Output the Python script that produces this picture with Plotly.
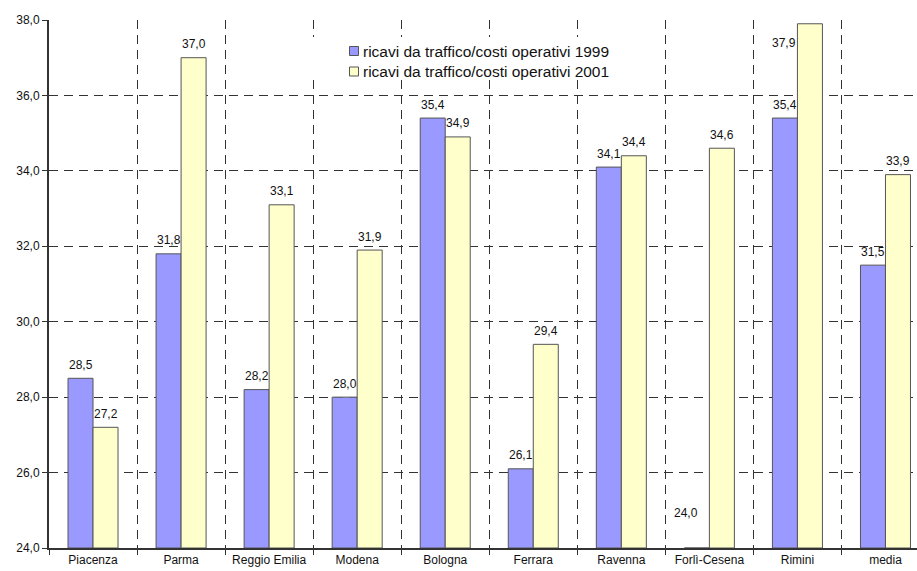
import plotly.graph_objects as go

# Data
categories = ["Piacenza", "Parma", "Reggio Emilia", "Modena", "Bologna",
              "Ferrara", "Ravenna", "Forlì-Cesena", "Rimini", "media"]
ratio_1999 = [28.5, 31.8, 28.2, 28.0, 35.4, 26.1, 34.1, 24.0, 35.4, 31.5]
ratio_2001 = [27.2, 37.0, 33.1, 31.9, 34.9, 29.4, 34.4, 34.6, 37.9, 33.9]
series_names = ["ricavi da traffico/costi operativi 1999",
                "ricavi da traffico/costi operativi 2001"]
y_ticks = [24, 26, 28, 30, 32, 34, 36, 38]

BLUE = "#9999FF"
YELLOW = "#FFFFCC"
OUTLINE = "#555555"
AXIS = "#333333"
FONT = "Liberation Sans, Arial, sans-serif"
BASE = 24

fig = go.Figure()
colors = [BLUE, YELLOW]
for name, vals, col in zip(series_names, [ratio_1999, ratio_2001], colors):
    fig.add_trace(go.Bar(
        x=categories, y=[v - BASE for v in vals], base=BASE,
        name=name, showlegend=False,
        marker=dict(color=col, line=dict(color=OUTLINE, width=1)),
    ))

# Value labels above the bars (a few nudged where they would collide/clip)
bar_off = 0.142
label_nudge = {(0, 7): (-11, 35), (1, 8): (-26, -19)}
for s, (vals, sign) in enumerate([(ratio_1999, -1), (ratio_2001, 1)]):
    for i, v in enumerate(vals):
        dx, dy = label_nudge.get((s, i), (0, 13.5))
        fig.add_annotation(
            x=i + sign * bar_off, y=v, text=f"{v:.1f}".replace(".", ","),
            showarrow=False, xanchor="center", yanchor="middle",
            xshift=dx, yshift=dy,
            font=dict(family=FONT, size=12, color="#111111"),
        )

# Legend: white box with swatch + text per series, inside the plot area
fig_w, fig_h, m_l, m_r, m_t, m_b = 917, 571, 49, 0, 20, 23
pw, ph = fig_w - m_l - m_r, fig_h - m_t - m_b
def px_x(px):
    return (px - m_l) / pw
def px_y(py):
    return 1 - (py - m_t) / ph
fig.add_shape(type="rect", xref="paper", yref="paper",
              x0=px_x(306), x1=px_x(616), y0=px_y(80), y1=px_y(37),
              fillcolor="white", line=dict(width=0))
for k, (name, col) in enumerate(zip(series_names, colors)):
    cy = 51 + k * 20.5
    fig.add_shape(type="rect", xref="paper", yref="paper",
                  x0=px_x(349.5), x1=px_x(358.5), y0=px_y(cy + 4.5), y1=px_y(cy - 4.5),
                  fillcolor=col, line=dict(color=OUTLINE, width=1))
    fig.add_annotation(xref="paper", yref="paper", x=px_x(361), y=px_y(cy),
                       text=name, showarrow=False, xanchor="left", yanchor="middle",
                       font=dict(family=FONT, size=15.5, color="#111111"))

fig.update_layout(
    width=fig_w, height=fig_h,
    margin=dict(l=m_l, r=m_r, t=m_t, b=m_b),
    paper_bgcolor="white", plot_bgcolor="white",
    barmode="group", bargap=0.432, bargroupgap=0,
    font=dict(family=FONT, size=12, color="#111111"),
    showlegend=False,
)
fig.update_xaxes(
    type="category", range=[-0.5, 9.358],
    tickson="boundaries", ticks="outside", ticklen=5, tickcolor=AXIS,
    ticklabelstandoff=0,
    showline=True, linecolor=AXIS, linewidth=2,
    showgrid=True, gridcolor=AXIS, griddash="9px,6px", gridwidth=1,
    tickfont=dict(family=FONT, size=12), zeroline=False,
)
fig.update_yaxes(
    range=[BASE, 38], tickvals=y_ticks, ticktext=[f"{t},0" for t in y_ticks],
    ticks="outside", ticklen=5, tickcolor=AXIS,
    showline=True, linecolor=AXIS, linewidth=2,
    showgrid=True, gridcolor=AXIS, griddash="9px,6px", gridwidth=1,
    tickfont=dict(family=FONT, size=12), zeroline=False,
)

fig.write_html("out.html")
